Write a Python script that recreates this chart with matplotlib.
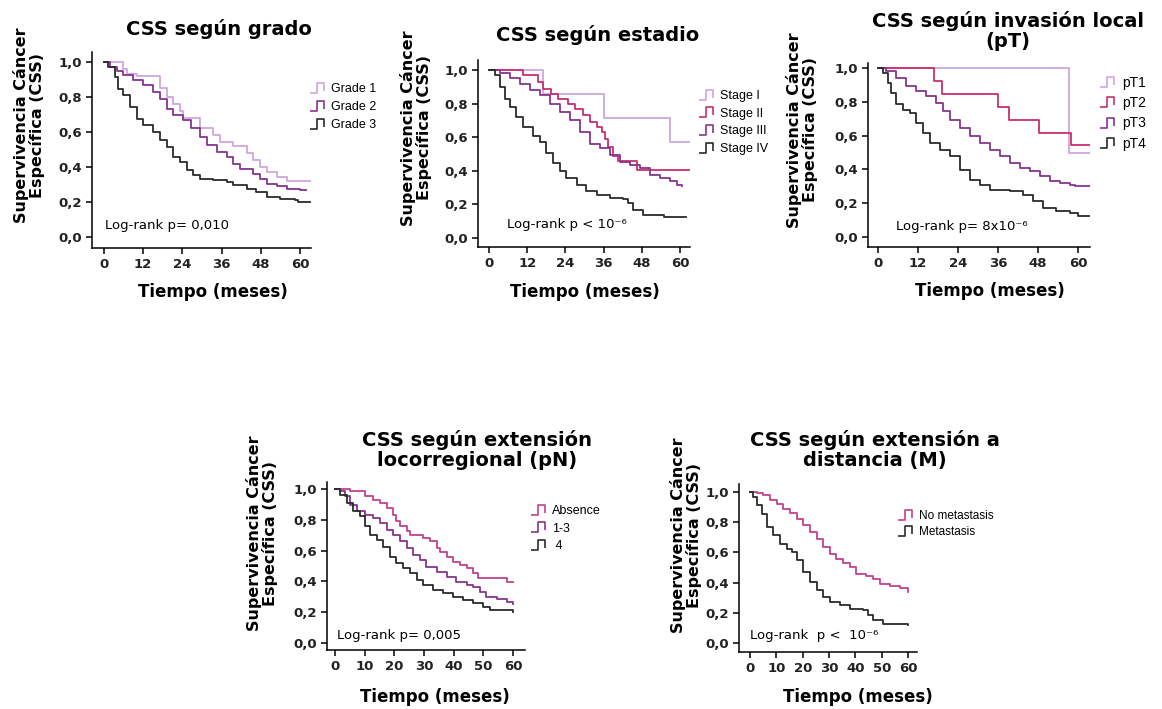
import matplotlib
matplotlib.use('Agg')
import matplotlib.pyplot as plt
from matplotlib.path import Path
from matplotlib.lines import Line2D
from matplotlib.ticker import FuncFormatter

# ---- data ----
grade1_t = [0, 5.9, 6.9, 10.0, 17.1, 19.2, 21.2, 23.3, 24.3, 29.4, 33.5, 35.5, 39.6, 43.7, 45.7, 47.8, 49.8, 52.9, 55.9, 63.4]
grade1_s = [1.0, 0.96, 0.93, 0.92, 0.85, 0.80, 0.76, 0.72, 0.68, 0.62, 0.58, 0.545, 0.52, 0.48, 0.44, 0.40, 0.37, 0.34, 0.32, 0.32]
grade2_t = [0, 1.8, 3.9, 5.9, 9.0, 12.0, 15.1, 17.1, 19.2, 21.2, 24.3, 26.8, 29.4, 31.4, 34.5, 37.6, 39.6, 41.6, 45.7, 47.8, 49.8, 52.9, 55.9, 60.0, 62.0]
grade2_s = [1.0, 0.97, 0.95, 0.924, 0.895, 0.867, 0.83, 0.79, 0.733, 0.695, 0.667, 0.62, 0.571, 0.524, 0.486, 0.457, 0.419, 0.39, 0.36, 0.333, 0.305, 0.29, 0.276, 0.267, 0.267]
grade3_t = [0, 1.3, 3.4, 4.4, 5.9, 8.0, 10.0, 12.0, 15.1, 17.1, 19.2, 21.2, 23.3, 25.3, 27.3, 29.4, 33.5, 37.6, 39.6, 43.7, 46.7, 49.8, 53.9, 58.5, 59.5, 63.0]
grade3_s = [1.0, 0.97, 0.914, 0.848, 0.81, 0.743, 0.676, 0.638, 0.60, 0.552, 0.514, 0.457, 0.429, 0.38, 0.352, 0.333, 0.324, 0.314, 0.295, 0.276, 0.257, 0.229, 0.219, 0.21, 0.20, 0.20]

stage1_t = [0, 17.1, 36.1, 56.7, 63.1]
stage1_s = [1.0, 0.857, 0.714, 0.571, 0.571]
stage2_t = [0, 10.8, 15.5, 17.1, 19.5, 21.8, 24.9, 27.0, 29.5, 31.7, 33.8, 35.4, 36.4, 37.4, 39.0, 40.6, 46.4, 63.1]
stage2_s = [1.0, 0.97, 0.93, 0.89, 0.86, 0.83, 0.80, 0.77, 0.73, 0.69, 0.66, 0.63, 0.59, 0.54, 0.49, 0.46, 0.405, 0.405]
stage3_t = [0, 3.4, 6.5, 9.7, 12.8, 15.9, 19.1, 22.2, 25.4, 28.5, 31.7, 34.8, 38.0, 41.1, 44.3, 47.4, 50.6, 53.7, 56.9, 59.0, 60.5]
stage3_s = [1.0, 0.98, 0.95, 0.92, 0.88, 0.85, 0.80, 0.75, 0.70, 0.63, 0.56, 0.535, 0.495, 0.455, 0.435, 0.416, 0.376, 0.356, 0.337, 0.317, 0.31]
stage4_t = [0, 1.8, 3.4, 4.9, 6.5, 8.6, 10.7, 13.8, 15.9, 18.0, 20.1, 22.2, 24.3, 27.5, 30.6, 33.8, 38.0, 42.2, 43.7, 45.3, 48.5, 54.8, 62.0]
stage4_s = [1.0, 0.97, 0.90, 0.83, 0.78, 0.72, 0.66, 0.61, 0.574, 0.505, 0.446, 0.396, 0.356, 0.317, 0.277, 0.257, 0.238, 0.234, 0.208, 0.168, 0.139, 0.125, 0.125]

pt1_t = [0, 57.3, 63.5]
pt1_s = [1.0, 0.50, 0.50]
pt2_t = [0, 16.8, 19.3, 36.0, 39.3, 48.3, 58.0, 63.5]
pt2_s = [1.0, 0.923, 0.846, 0.769, 0.692, 0.615, 0.546, 0.546]
pt3_t = [0, 2.5, 5.5, 8.5, 11.5, 14.5, 17.5, 19.5, 21.5, 24.5, 27.5, 30.5, 33.5, 36.5, 39.5, 42.5, 45.5, 48.5, 51.5, 54.5, 57.5, 59.0, 63.5]
pt3_s = [1.0, 0.98, 0.94, 0.895, 0.862, 0.832, 0.793, 0.744, 0.694, 0.645, 0.596, 0.556, 0.517, 0.477, 0.438, 0.408, 0.389, 0.359, 0.329, 0.32, 0.31, 0.30, 0.30]
pt4_t = [0, 1.5, 3.0, 4.0, 5.5, 7.5, 9.5, 11.5, 13.5, 15.5, 18.5, 21.5, 24.5, 27.5, 30.5, 33.5, 39.5, 43.5, 46.5, 49.5, 53.5, 57.5, 60.0, 63.5]
pt4_s = [1.0, 0.97, 0.91, 0.85, 0.79, 0.753, 0.734, 0.675, 0.615, 0.556, 0.517, 0.477, 0.398, 0.339, 0.31, 0.28, 0.27, 0.25, 0.211, 0.172, 0.152, 0.142, 0.126, 0.126]

pn0_t = [0, 5.0, 10.1, 12.9, 15.1, 17.4, 19.6, 20.7, 21.9, 24.1, 25.2, 29.7, 32.0, 34.2, 35.3, 37.6, 39.8, 42.1, 44.3, 46.5, 48.2, 57.8, 60.0]
pn0_s = [1.0, 0.985, 0.957, 0.93, 0.909, 0.876, 0.833, 0.79, 0.757, 0.724, 0.70, 0.68, 0.659, 0.615, 0.593, 0.561, 0.528, 0.507, 0.485, 0.457, 0.42, 0.398, 0.398]
pn13_t = [0, 1.7, 3.4, 5.0, 7.3, 10.1, 12.9, 15.1, 17.4, 19.6, 21.9, 24.1, 26.4, 28.6, 30.8, 34.2, 37.6, 40.9, 44.3, 46.5, 48.8, 51.0, 54.4, 57.8, 60.0]
pn13_s = [1.0, 0.985, 0.952, 0.898, 0.854, 0.833, 0.81, 0.778, 0.735, 0.702, 0.659, 0.615, 0.572, 0.539, 0.496, 0.463, 0.43, 0.398, 0.376, 0.365, 0.333, 0.30, 0.289, 0.267, 0.252]
pn4_t = [0, 1.7, 3.9, 6.2, 8.4, 10.1, 11.8, 14.0, 16.3, 18.5, 20.7, 23.0, 25.2, 27.5, 29.7, 33.1, 36.4, 39.8, 43.2, 46.5, 49.9, 52.1, 56.6, 60.0]
pn4_s = [1.0, 0.963, 0.909, 0.854, 0.822, 0.757, 0.702, 0.67, 0.626, 0.561, 0.517, 0.485, 0.452, 0.409, 0.376, 0.343, 0.322, 0.30, 0.278, 0.261, 0.235, 0.217, 0.213, 0.20]

m0_t = [0, 2.5, 5.1, 7.6, 10.1, 12.6, 15.2, 17.7, 20.2, 22.7, 25.3, 27.8, 30.3, 32.8, 35.4, 37.9, 40.4, 44.2, 46.7, 49.3, 53.1, 56.8, 60.0]
m0_s = [1.0, 0.993, 0.978, 0.945, 0.923, 0.89, 0.861, 0.823, 0.779, 0.735, 0.691, 0.636, 0.592, 0.558, 0.53, 0.503, 0.459, 0.441, 0.426, 0.393, 0.375, 0.364, 0.338]
m1_t = [0, 1.3, 2.5, 4.4, 6.3, 8.8, 11.4, 13.9, 15.8, 17.7, 20.2, 22.7, 25.3, 27.8, 30.3, 34.1, 37.9, 42.9, 44.8, 46.7, 50.5, 54.3, 60.0]
m1_s = [1.0, 0.967, 0.912, 0.857, 0.768, 0.713, 0.658, 0.625, 0.603, 0.547, 0.47, 0.404, 0.349, 0.305, 0.272, 0.25, 0.227, 0.216, 0.183, 0.15, 0.128, 0.124, 0.117]

# ---- style ----
W, H = 1162, 709
LIGHT = '#cfa6e0'
PURPLE = '#86358f'
PINK = '#c8306e'
MAGENTA = '#c2428f'
DARK = '#2b2b2b'

# little "step" glyph used as legend key
step_icon = Path([(-1.0, -0.55), (-0.15, -0.55), (-0.15, 0.55), (0.7, 0.55), (0.7, -0.3)],
                 [Path.MOVETO, Path.LINETO, Path.LINETO, Path.LINETO, Path.LINETO])

fig = plt.figure(figsize=(W / 100, H / 100), dpi=100)


def px_rect(x0, y0, x1, y1):
    return [x0 / W, 1 - y1 / H, (x1 - x0) / W, (y1 - y0) / H]


def comma(v, pos):
    return f'{v:.1f}'.replace('.', ',')


def km_panel(box, xlim, ylim, xticks, curves, title, title_xy, ylab_xy, xlab_xy,
             ptext, ptext_xy, leg_xy, leg_size=8.5, leg_gap=0.5):
    ax = fig.add_axes(px_rect(*box))
    for t, s, c, lab in curves:
        ax.step(t, s, where='post', color=c, lw=1.3)
    ax.set_xlim(*xlim)
    ax.set_ylim(*ylim)
    ax.set_xticks(xticks)
    ax.set_yticks([0, 0.2, 0.4, 0.6, 0.8, 1.0])
    ax.yaxis.set_major_formatter(FuncFormatter(comma))
    for side in ['top', 'right']:
        ax.spines[side].set_visible(False)
    for side in ['left', 'bottom']:
        ax.spines[side].set_linewidth(1.1)
    ax.tick_params(direction='out', length=4, width=1.1, labelsize=9.5, pad=3)
    for lab in ax.get_xticklabels() + ax.get_yticklabels():
        lab.set_fontweight('bold')
        lab.set_color('#222222')
    ax.patch.set_alpha(0)

    fig.text(title_xy[0] / W, 1 - title_xy[1] / H, title, ha='center', va='center',
             fontsize=14, fontweight='bold', linespacing=1.1)
    fig.text(ylab_xy[0] / W, 1 - ylab_xy[1] / H, 'Supervivencia Cáncer\nEspecífica (CSS)',
             rotation=90, ha='center', va='center', fontsize=11.5, fontweight='bold',
             linespacing=1.05, multialignment='center')
    fig.text(xlab_xy[0] / W, 1 - xlab_xy[1] / H, 'Tiempo (meses)', ha='center', va='center',
             fontsize=12, fontweight='bold')
    fig.text(ptext_xy[0] / W, 1 - ptext_xy[1] / H, ptext, ha='left', va='center', fontsize=9.5)

    handles = [Line2D([], [], color=c, marker=step_icon, markersize=12, markerfacecolor='none',
                      markeredgewidth=1.2, linestyle='None') for t, s, c, lab in curves]
    labels = [lab for t, s, c, lab in curves]
    fig.legend(handles, labels, loc='upper left', bbox_to_anchor=(leg_xy[0] / W, 1 - leg_xy[1] / H),
               frameon=False, borderpad=0, borderaxespad=0, handlelength=1.1, handletextpad=0.5,
               labelspacing=leg_gap, numpoints=1, prop={'family': 'Liberation Sans', 'size': leg_size})
    return ax


km_panel((92, 52, 311, 248), (-3.67, 63.4), (-0.063, 1.057), [0, 12, 24, 36, 48, 60],
         [(grade1_t, grade1_s, LIGHT, 'Grade 1'),
          (grade2_t, grade2_s, PURPLE, 'Grade 2'),
          (grade3_t, grade3_s, DARK, 'Grade 3')],
         'CSS según grado', (219, 29), (29, 125), (213, 292),
         'Log-rank p= 0,010', (105, 226), (311, 83), leg_size=9)

km_panel((478, 60, 690, 247), (-3.46, 63.1), (-0.054, 1.06), [0, 12, 24, 36, 48, 60],
         [(stage1_t, stage1_s, LIGHT, 'Stage I'),
          (stage2_t, stage2_s, PINK, 'Stage II'),
          (stage3_t, stage3_s, PURPLE, 'Stage III'),
          (stage4_t, stage4_s, DARK, 'Stage IV')],
         'CSS según estadio', (598, 35), (416, 128), (585, 292),
         'Log-rank p < 10⁻⁶', (507, 225), (700, 90), leg_size=9, leg_gap=0.45)

km_panel((868, 63, 1090, 247), (-3.0, 63.6), (-0.059, 1.03), [0, 12, 24, 36, 48, 60],
         [(pt1_t, pt1_s, LIGHT, 'pT1'),
          (pt2_t, pt2_s, PINK, 'pT2'),
          (pt3_t, pt3_s, PURPLE, 'pT3'),
          (pt4_t, pt4_s, DARK, 'pT4')],
         'CSS según invasión local\n(pT)', (1008, 31), (802, 130), (990, 291),
         'Log-rank p= 8x10⁻⁶', (896, 227), (1100, 76), leg_size=10, leg_gap=0.45)

km_panel((327, 482, 525, 650), (-2.7, 64.0), (-0.045, 1.045), [0, 10, 20, 30, 40, 50, 60],
         [(pn0_t, pn0_s, MAGENTA, 'Absence'),
          (pn13_t, pn13_s, PURPLE, '1-3'),
          (pn4_t, pn4_s, DARK, ' 4')],
         'CSS según extensión\nlocorregional (pN)', (477, 450), (262, 533), (435, 697),
         'Log-rank p= 0,005', (337, 635), (532, 505), leg_size=9, leg_gap=0.45)

km_panel((739, 484, 917, 652), (-4.2, 63.4), (-0.06, 1.053), [0, 10, 20, 30, 40, 50, 60],
         [(m0_t, m0_s, MAGENTA, 'No metastasis'),
          (m1_t, m1_s, DARK, 'Metastasis')],
         'CSS según extensión a\ndistancia (M)', (875, 450), (686, 535), (858, 697),
         'Log-rank  p <  10⁻⁶', (750, 635), (900, 510), leg_size=8.5, leg_gap=0.35)

fig.savefig('out.png', dpi=100)
